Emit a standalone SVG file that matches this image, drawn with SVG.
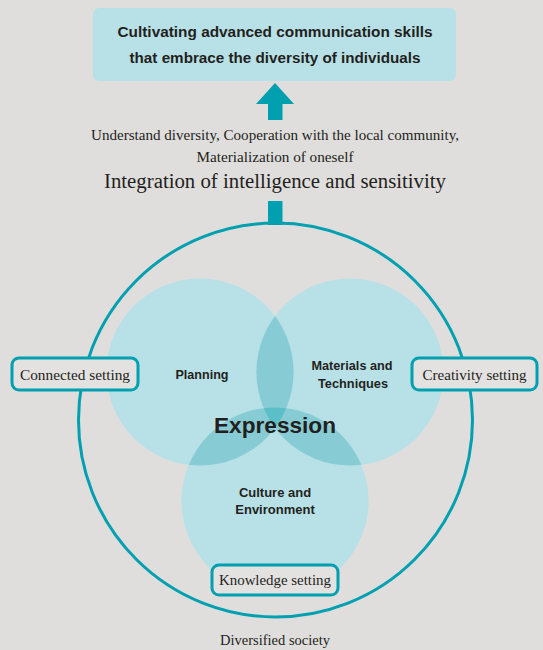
<svg xmlns="http://www.w3.org/2000/svg" width="543" height="650" viewBox="0 0 543 650">
<style>
.sans{font-family:"Liberation Sans",Arial,sans-serif;font-weight:bold;fill:#231f20;text-anchor:middle}
.serif{font-family:"Liberation Serif","Times New Roman",serif;fill:#231f20;text-anchor:middle}
.light{fill:#b8e1e7}
.mid{fill:#87ccd4}
.dark{fill:#5bbfc7}
.tag{fill:#e3e2e1;stroke:#00a0b0;stroke-width:3}
.teal{fill:#00a0b0}
</style>
<defs>
<clipPath id="cP"><circle cx="200" cy="372" r="93.6"/></clipPath>
<clipPath id="cM"><circle cx="350" cy="372" r="93.6"/></clipPath>
<clipPath id="cC"><circle cx="275" cy="501" r="93.6"/></clipPath>
</defs>
<rect width="543" height="650" fill="#dfdedd"/>

<g id="goal">
<rect x="93" y="8" width="363" height="73" rx="6" class="light"/>
<text x="275" y="37" class="sans" font-size="14.5" textLength="315" lengthAdjust="spacingAndGlyphs">Cultivating advanced communication skills</text>
<text x="275" y="63" class="sans" font-size="14.5" textLength="291" lengthAdjust="spacingAndGlyphs">that embrace the diversity of individuals</text>
</g>

<g id="connectors">
<polygon points="256,104 275,83 294,104" class="teal"/>
<rect x="268" y="103" width="14.5" height="17" class="teal"/>
<rect x="268" y="201" width="14.5" height="24" class="teal"/>
</g>

<g id="integration">
<text x="275" y="140" class="serif" font-size="14" textLength="368" lengthAdjust="spacingAndGlyphs">Understand diversity, Cooperation with the local community,</text>
<text x="275" y="162" class="serif" font-size="14" textLength="157" lengthAdjust="spacingAndGlyphs">Materialization of oneself</text>
<text x="275" y="188" class="serif" font-size="20" textLength="342" lengthAdjust="spacingAndGlyphs">Integration of intelligence and sensitivity</text>
</g>

<g id="society">
<circle cx="275.5" cy="420" r="197" fill="none" stroke="#00a0b0" stroke-width="3"/>
<text x="275" y="645" class="serif" font-size="14" textLength="110" lengthAdjust="spacingAndGlyphs">Diversified society</text>
</g>

<g id="venn">
<g id="planning">
<circle cx="200" cy="372" r="93.6" class="light"/>
</g>
<g id="materials">
<circle cx="350" cy="372" r="93.6" class="light"/>
</g>
<g id="culture">
<circle cx="275" cy="501" r="93.6" class="light"/>
</g>
<circle cx="350" cy="372" r="93.6" class="mid" clip-path="url(#cP)"/>
<circle cx="275" cy="501" r="93.6" class="mid" clip-path="url(#cP)"/>
<circle cx="275" cy="501" r="93.6" class="mid" clip-path="url(#cM)"/>
<g clip-path="url(#cM)"><circle cx="275" cy="501" r="93.6" class="dark" clip-path="url(#cP)"/></g>
<text x="202" y="379" class="sans" font-size="13" textLength="53" lengthAdjust="spacingAndGlyphs">Planning</text>
<text x="352" y="370" class="sans" font-size="13" textLength="81" lengthAdjust="spacingAndGlyphs">Materials and</text>
<text x="353" y="388" class="sans" font-size="13" textLength="70" lengthAdjust="spacingAndGlyphs">Techniques</text>
<text x="275" y="497" class="sans" font-size="13">Culture and</text>
<text x="275" y="514" class="sans" font-size="13">Environment</text>
<text x="275" y="433" class="sans" font-size="22" textLength="122" lengthAdjust="spacingAndGlyphs">Expression</text>
</g>

<g id="connected">
<rect x="12" y="358" width="126" height="32" rx="7" class="tag"/>
<text x="75" y="380" class="serif" font-size="15" textLength="110" lengthAdjust="spacingAndGlyphs">Connected setting</text>
</g>
<g id="creativity">
<rect x="412" y="358" width="125" height="32" rx="7" class="tag"/>
<text x="474.5" y="380" class="serif" font-size="15" textLength="104" lengthAdjust="spacingAndGlyphs">Creativity setting</text>
</g>
<g id="knowledge">
<rect x="212" y="565" width="126" height="30" rx="7" class="tag"/>
<text x="275" y="585" class="serif" font-size="15" textLength="112" lengthAdjust="spacingAndGlyphs">Knowledge setting</text>
</g>
</svg>
